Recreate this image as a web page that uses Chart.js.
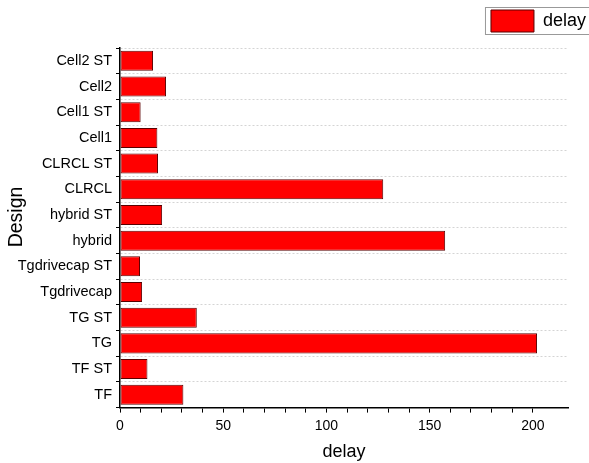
<!DOCTYPE html>
<html>
<head>
<meta charset="utf-8">
<script src="https://cdn.jsdelivr.net/npm/chart.js@4"></script>
<style>
  body { margin: 0; background: #fff; }
  #wrap { width: 589px; height: 463px; }
</style>
</head>
<body>
<div id="wrap"><canvas id="myChart" width="589" height="463"></canvas></div>
<script>
// categories, bottom to top
const designs = ['TF', 'TF ST', 'TG', 'TG ST', 'Tgdrivecap', 'Tgdrivecap ST', 'hybrid', 'hybrid ST',
                 'CLRCL', 'CLRCL ST', 'Cell1', 'Cell1 ST', 'Cell2', 'Cell2 ST'];
const delayValues = [30.7, 13.3, 202, 37.2, 10.7, 9.7, 157.5, 20.4, 127.5, 18.4, 18.1, 10, 22.3, 16];
const xMax = 217;

const fontFamily = 'Liberation Sans, Arial, sans-serif';

// legend sits in the top right corner with a grey frame, a bit more gap below it
const legendTweaks = {
    id: 'legendTweaks',
    beforeLayout(chart) {
        const lg = chart.legend;
        if (lg && !lg._patched) {
            const fit = lg.fit;
            lg.fit = function () {
                fit.call(this);
                this.height += 6;
            };
            lg._patched = true;
        }
    },
    afterLayout(chart) {
        const lg = chart.legend;
        lg.right += 28;
        lg.width += 28;
    },
    afterDraw(chart) {
        const box = chart.legend.legendHitBoxes[0];
        if (!box) return;
        const ctx = chart.ctx;
        ctx.save();
        ctx.strokeStyle = '#999';
        ctx.lineWidth = 1;
        ctx.strokeRect(box.left - 5.5, box.top - 2.5, box.width + 30, box.height + 5);
        ctx.restore();
    }
};

const ctx = document.getElementById('myChart').getContext('2d');
new Chart(ctx, {
    type: 'bar',
    data: {
        labels: designs,
        datasets: [{
            label: 'delay',
            data: delayValues,
            backgroundColor: '#ff0000',
            borderColor: '#5a0000',
            borderWidth: 1,
            borderSkipped: false,
            barPercentage: 0.78,
            categoryPercentage: 1
        }]
    },
    plugins: [legendTweaks],
    options: {
        indexAxis: 'y',
        responsive: false,
        animation: false,
        layout: { padding: { left: 0, right: 21, top: 0, bottom: 0 } },
        plugins: {
            legend: {
                position: 'top',
                align: 'end',
                labels: {
                    boxWidth: 43,
                    boxHeight: 22,
                    padding: 10,
                    color: '#000',
                    font: { family: fontFamily, size: 18 }
                }
            },
            tooltip: { enabled: false }
        },
        scales: {
            x: {
                min: 0,
                max: xMax,
                afterBuildTicks: (scale) => {
                    scale.ticks = scale.ticks.filter(t => t.value % 10 === 0);
                },
                ticks: {
                    stepSize: 10,
                    autoSkip: false,
                    maxRotation: 0,
                    color: '#000',
                    padding: 5,
                    font: { family: fontFamily, size: 14 },
                    callback: (v) => (v % 50 === 0 ? v : '')
                },
                grid: { drawOnChartArea: false, tickLength: 5, tickColor: '#000' },
                border: { color: '#000', width: 1.5 },
                title: {
                    display: true,
                    text: 'delay',
                    color: '#000',
                    font: { family: fontFamily, size: 18 },
                    padding: { top: 2, bottom: 0 }
                }
            },
            y: {
                reverse: true,
                afterFit: (scale) => {
                    scale.width = 120;
                },
                ticks: {
                    color: '#000',
                    padding: 4,
                    font: { family: fontFamily, size: 14.5 }
                },
                grid: {
                    offset: true,
                    color: '#d4d4d4',
                    tickColor: '#000',
                    tickLength: 4,
                    tickBorderDash: []
                },
                border: { color: '#000', width: 1.5, dash: [2, 2] },
                title: {
                    display: true,
                    text: '    Design',   // leading spaces nudge it up a little, like the original
                    color: '#000',
                    font: { family: fontFamily, size: 19.5 },
                    padding: { top: 5, bottom: 0 }
                }
            }
        }
    }
});
</script>
</body>
</html>
